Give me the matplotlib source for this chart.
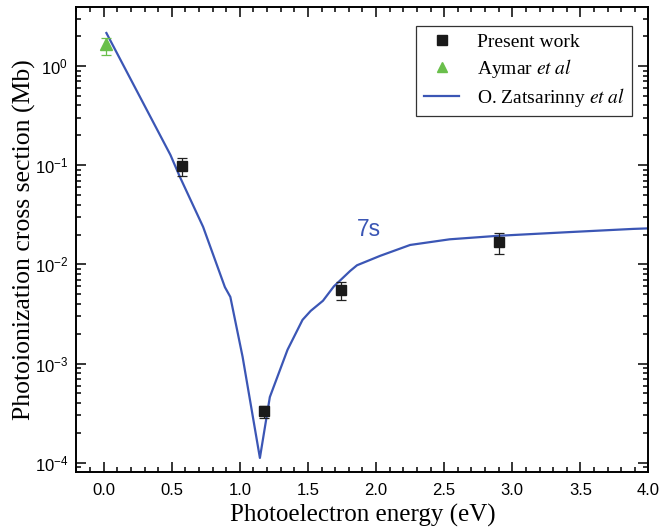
import matplotlib
matplotlib.use('Agg')
import matplotlib.pyplot as plt
from matplotlib.ticker import MultipleLocator, LogLocator, NullFormatter

plt.rcParams['font.family'] = 'Liberation Sans'
plt.rcParams['mathtext.fontset'] = 'custom'
plt.rcParams['mathtext.rm'] = 'Liberation Sans'

# present work (measured)
x_pw = [0.574, 1.18, 1.74, 2.90]
y_pw = [0.098, 3.34e-4, 5.5e-3, 0.0170]
y_pw_lo = [0.078, 2.82e-4, 4.4e-3, 0.0128]
y_pw_hi = [0.118, 3.75e-4, 6.6e-3, 0.0209]

# Aymar et al
x_ay = [0.015]
y_ay = [1.65]
y_ay_lo = [1.28]
y_ay_hi = [1.91]

# O. Zatsarinny et al (theory)
x_th = [0.02, 0.49, 0.56, 0.73, 0.89, 0.93, 1.02, 1.147, 1.22, 1.35, 1.46,
        1.52, 1.61, 1.69, 1.81, 1.86, 2.03, 2.25, 2.54, 2.89, 3.40, 3.89, 4.05]
y_th = [2.15, 0.127, 0.076, 0.0239, 5.9e-3, 4.7e-3, 1.17e-3, 1.12e-4, 4.6e-4,
        1.38e-3, 2.76e-3, 3.4e-3, 4.3e-3, 6.0e-3, 8.6e-3, 9.8e-3, 0.0122,
        0.0157, 0.0179, 0.0194, 0.0211, 0.0228, 0.0232]

blue = '#3b56b5'
green = '#6abf4b'

fig = plt.figure(figsize=(6.59, 5.32), dpi=100)
ax = fig.add_axes([0.116, 0.113, 0.868, 0.874])

ax.plot(x_th, y_th, '-', color=blue, lw=1.6, zorder=2)

err_pw = [[y - lo for y, lo in zip(y_pw, y_pw_lo)], [hi - y for y, hi in zip(y_pw, y_pw_hi)]]
ax.errorbar(x_pw, y_pw, yerr=err_pw, fmt='s', color='#1a1a1a', ms=7, ecolor='#222222',
            elinewidth=0.9, capsize=3.5, capthick=0.9, zorder=3)
err_ay = [[y - lo for y, lo in zip(y_ay, y_ay_lo)], [hi - y for y, hi in zip(y_ay, y_ay_hi)]]
ax.errorbar(x_ay, y_ay, yerr=err_ay, fmt='^', color=green, ms=8.5, ecolor=green,
            elinewidth=0.9, capsize=3.5, capthick=0.9, zorder=3)

# legend proxies (markers only, like the original)
h1, = ax.plot([], [], 's', color='#1a1a1a', ms=6.5, label='Present work')
h2, = ax.plot([], [], '^', color=green, ms=7, label='Aymar $\\it{et\\ al}$')
h3, = ax.plot([], [], '-', color=blue, lw=1.6, label='O. Zatsarinny $\\it{et\\ al}$')

ax.set_yscale('log')
ax.set_xlim(-0.2, 4.0)
ax.set_ylim(8.1e-5, 3.94)

ax.xaxis.set_major_locator(MultipleLocator(0.5))
ax.xaxis.set_minor_locator(MultipleLocator(0.1))
ax.xaxis.set_major_formatter(plt.FuncFormatter(lambda v, p: '%.1f' % v))
ax.yaxis.set_major_locator(LogLocator(base=10, numticks=10))
ax.yaxis.set_minor_locator(LogLocator(base=10, subs=range(2, 10), numticks=20))
ax.yaxis.set_minor_formatter(NullFormatter())

ax.tick_params(which='both', direction='in', top=True, right=True, width=1.1, labelsize=12)
ax.tick_params(which='major', length=7)
ax.tick_params(which='minor', length=3.5)
ax.tick_params(axis='x', pad=8)
ax.tick_params(axis='y', pad=6)
for s in ax.spines.values():
    s.set_linewidth(1.4)

ax.set_xlabel('Photoelectron energy (eV)', family='Liberation Serif', fontsize=18, labelpad=4)
ax.set_ylabel('Photoionization cross section (Mb)', family='Liberation Serif', fontsize=18.5, labelpad=-1)

ax.text(1.86, 0.0195, '7s', color=blue, fontsize=16.5)

plt.rcParams['mathtext.fontset'] = 'stix'
leg = ax.legend(handles=[h1, h2, h3], loc='upper right',
                bbox_to_anchor=(0.972, 0.96), borderaxespad=0, fancybox=False,
                edgecolor='black', handlelength=1.8, handletextpad=0.9,
                labelspacing=0.3, borderpad=0.4,
                prop={'family': 'Liberation Serif', 'size': 14})
leg.get_frame().set_linewidth(0.9)

fig.savefig('out.png', dpi=100)
